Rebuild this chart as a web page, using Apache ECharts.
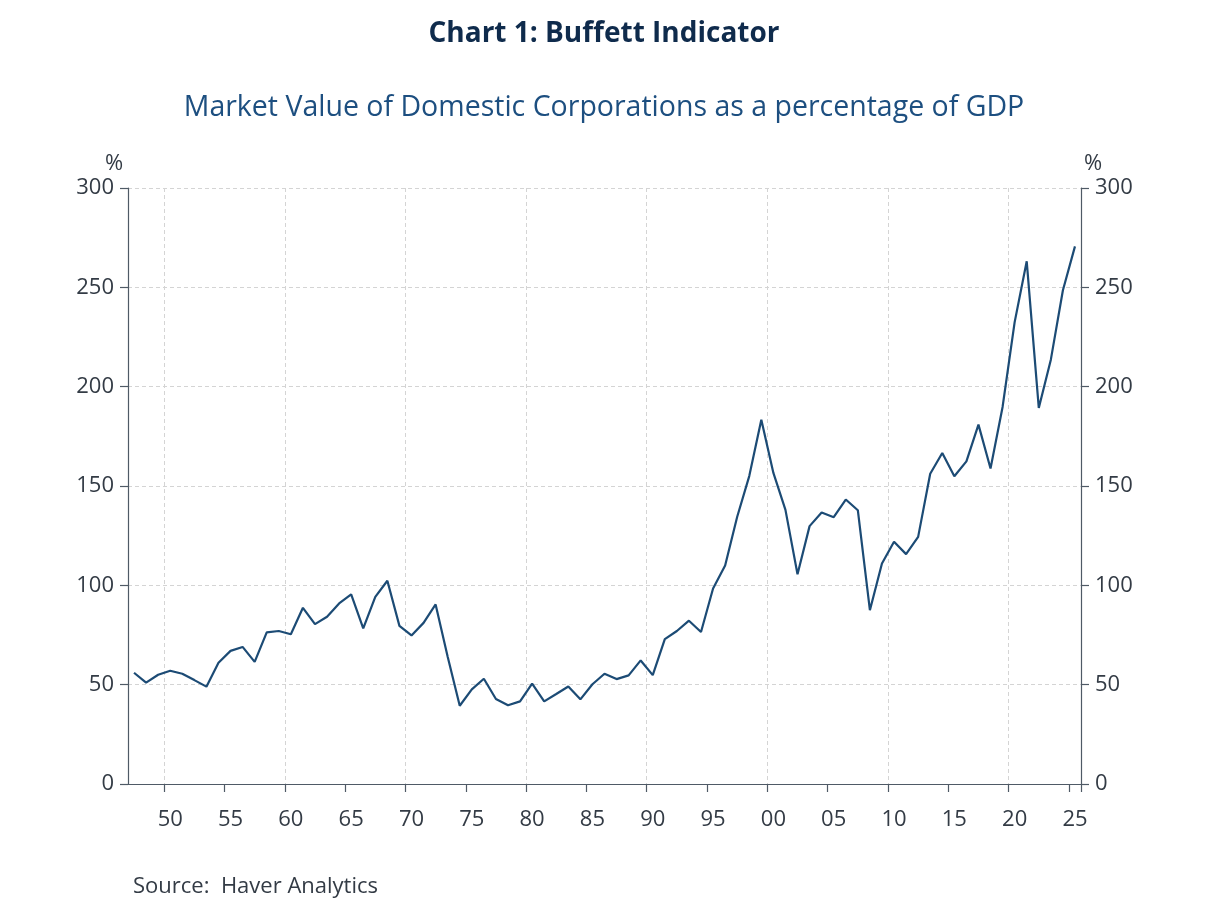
<!DOCTYPE html>
<html>
<head>
<meta charset="utf-8">
<script src="https://cdn.jsdelivr.net/npm/echarts@6/dist/echarts.min.js"></script>
<style>
html,body{margin:0;padding:0;background:#fff;}
#chart{width:1208px;height:906px;}
</style>
</head>
<body>
<div id="chart"></div>
<script>
var years = ['1947','1948','1949','1950','1951','1952','1953','1954','1955','1956','1957','1958','1959',
'1960','1961','1962','1963','1964','1965','1966','1967','1968','1969',
'1970','1971','1972','1973','1974','1975','1976','1977','1978','1979',
'1980','1981','1982','1983','1984','1985','1986','1987','1988','1989',
'1990','1991','1992','1993','1994','1995','1996','1997','1998','1999',
'2000','2001','2002','2003','2004','2005','2006','2007','2008','2009',
'2010','2011','2012','2013','2014','2015','2016','2017','2018','2019',
'2020','2021','2022','2023','2024','2025'];
var buffettIndicator = [56,51,55,57,55.5,52.3,49,61,67,69,61.5,76.3,77,
75.4,88.7,80.5,84.2,90.9,95.4,78.3,94.2,102.3,79.6,
74.8,81.1,90.4,64,39.4,47.6,53,42.8,39.6,41.6,
50.5,41.6,45.3,49.1,42.6,50.2,55.5,52.8,54.7,62.2,
54.8,72.9,77,82.2,76.5,98.4,110,134.5,155,183.4,
156.6,138,105.6,129.8,136.7,134.3,143.2,137.8,87.5,111,
121.9,115.7,124.4,156.2,166.6,154.9,162.4,180.9,158.8,189.8,
232.5,263.1,189.3,213.6,248.5,270.6];
var yTicks = [0,50,100,150,200,250,300];
var titleText = 'Chart 1: Buffett Indicator';
var subtitleText = 'Market Value of Domestic Corporations as a percentage of GDP';
var sourceText = 'Source:  Haver Analytics';
var unitText = '%';

var chart = echarts.init(document.getElementById('chart'), null, {renderer:'canvas'});
var axisColor = '#4f5a66';
var labelColor = '#333b45';
var gridColor = '#d4d4d4';
var font = '"Open Sans", "Noto Sans", sans-serif';

function yAxisDef(pos){
  return {
    type:'value', position:pos, min:yTicks[0], max:yTicks[yTicks.length-1], interval:50,
    axisLine:{show:true, lineStyle:{color:axisColor, width:1.2}},
    axisTick:{show:true, length:8, lineStyle:{color:axisColor, width:1.2}},
    axisLabel:{show:true, margin:14, fontSize:22, color:labelColor, fontFamily:font},
    splitLine:{show: pos==='left', lineStyle:{color:gridColor, type:[4,3], width:1}}
  };
}

var option = {
  backgroundColor:'#ffffff',
  animation:false,
  title:[
    {text:titleText, left:'center', top:15,
     textStyle:{fontFamily:font, fontWeight:'bold', fontSize:28, color:'#0f2b4c'}},
    {text:subtitleText, left:'center', top:88,
     textStyle:{fontFamily:font, fontWeight:'normal', fontSize:28.5, color:'#1d4f80'}}
  ],
  grid:{left:128, right:127, top:188, bottom:122, containLabel:false},
  xAxis:{
    type:'category', data:years, boundaryGap:true,
    axisLine:{show:true, onZero:false, lineStyle:{color:axisColor, width:1.2}},
    axisTick:{show:true, length:8, alignWithLabel:false,
      interval:function(i, v){ return (+v) % 5 === 0; },
      lineStyle:{color:axisColor, width:1.2}},
    axisLabel:{show:true, margin:25, fontSize:22, color:labelColor, fontFamily:font,
      interval:function(i, v){ return (+v) % 5 === 0; },
      formatter:function(v){ return v.slice(2); }},
    splitLine:{show:true, interval:function(i, v){ return (+v) % 10 === 0; },
      lineStyle:{color:gridColor, type:[4,3], width:1}}
  },
  yAxis:[yAxisDef('left'), yAxisDef('right')],
  series:[{
    type:'line', data:buffettIndicator, yAxisIndex:0,
    showSymbol:false, symbol:'none', smooth:false,
    lineStyle:{color:'#1c4b75', width:2.2},
    z:5
  }],
  graphic:[
    {type:'text', left:105, top:153, style:{text:unitText, fontSize:22, fill:labelColor, fontFamily:font}},
    {type:'text', left:1084, top:153, style:{text:unitText, fontSize:22, fill:labelColor, fontFamily:font}},
    {type:'text', left:133, top:876, style:{text:sourceText, fontSize:22, fill:labelColor, fontFamily:font}}
  ]
};
chart.setOption(option);
</script>
</body>
</html>
